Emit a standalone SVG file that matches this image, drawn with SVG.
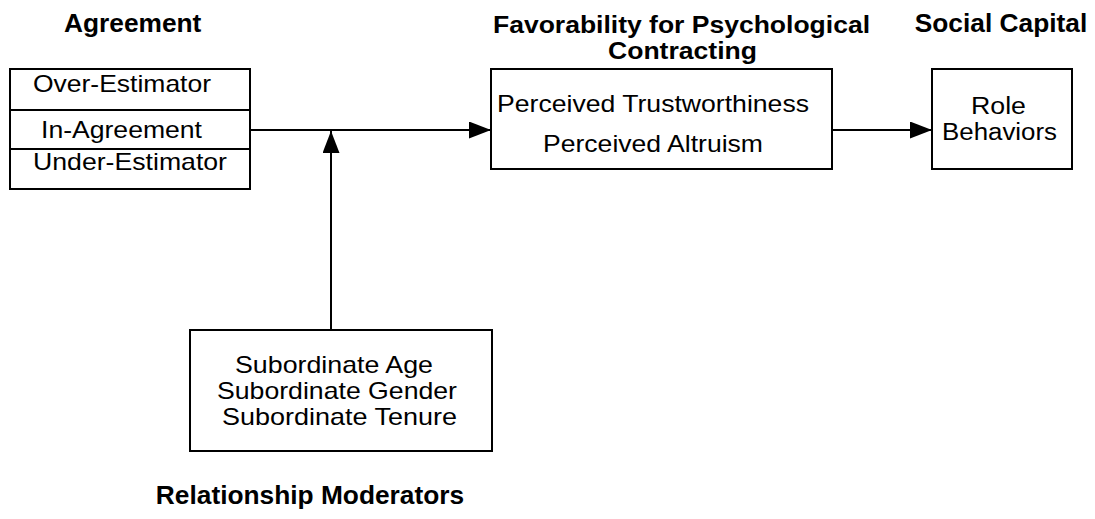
<svg xmlns="http://www.w3.org/2000/svg" width="1095" height="519" viewBox="0 0 1095 519">
<style>
.box{fill:#fff;stroke:#000;stroke-width:2}
.t{font-family:"Liberation Sans",Arial,sans-serif;font-size:24px;fill:#000}
.s{font-size:23px}
.h{font-family:"Liberation Sans",Arial,sans-serif;font-size:26.3px;font-weight:bold;fill:#000}
.hs{font-size:23px}
.c{stroke:#000;stroke-width:2;fill:none}
</style>
<defs>
<marker id="ah" markerUnits="userSpaceOnUse" markerWidth="24" markerHeight="18" refX="22" refY="8.5" orient="auto">
<path d="M0,0 L22,8.5 L0,17 z" fill="#000"/>
</marker>
</defs>
<rect width="1095" height="519" fill="#fff"/>
<g id="titles">
<text class="h" x="64" y="32">Agreement</text>
<text class="h hs" x="493" y="33" textLength="377" lengthAdjust="spacingAndGlyphs">Favorability for Psychological</text>
<text class="h hs" x="608" y="59" textLength="149" lengthAdjust="spacingAndGlyphs">Contracting</text>
<text class="h" x="1001" y="32" text-anchor="middle">Social Capital</text>
<text class="h" x="310" y="504" text-anchor="middle">Relationship Moderators</text>
</g>
<g id="agreement">
<rect class="box" x="10" y="69" width="240" height="120"/>
<line class="c" x1="10" y1="110" x2="250" y2="110"/>
<line class="c" x1="10" y1="149" x2="250" y2="149"/>
<text class="t" x="33" y="92" textLength="178" lengthAdjust="spacingAndGlyphs">Over-Estimator</text>
<text class="t" x="41" y="138" textLength="161" lengthAdjust="spacingAndGlyphs">In-Agreement</text>
<text class="t" x="33" y="170" textLength="194" lengthAdjust="spacingAndGlyphs">Under-Estimator</text>
</g>
<g id="favorability">
<rect class="box" x="491" y="69" width="341" height="100"/>
<text class="t" x="497" y="112" textLength="312" lengthAdjust="spacingAndGlyphs">Perceived Trustworthiness</text>
<text class="t" x="543" y="152" textLength="220" lengthAdjust="spacingAndGlyphs">Perceived Altruism</text>
</g>
<g id="social">
<rect class="box" x="932" y="69" width="140" height="100"/>
<text class="t s" x="971" y="114" textLength="55" lengthAdjust="spacingAndGlyphs">Role</text>
<text class="t s" x="942" y="140" textLength="115" lengthAdjust="spacingAndGlyphs">Behaviors</text>
</g>
<g id="moderators">
<rect class="box" x="190" y="330" width="302" height="121"/>
<text class="t" x="235" y="373" textLength="198" lengthAdjust="spacingAndGlyphs">Subordinate Age</text>
<text class="t" x="217" y="399" textLength="240" lengthAdjust="spacingAndGlyphs">Subordinate Gender</text>
<text class="t" x="222" y="425" textLength="235" lengthAdjust="spacingAndGlyphs">Subordinate Tenure</text>
</g>
<g id="connectors">
<line class="c" x1="250" y1="130" x2="491" y2="130" marker-end="url(#ah)"/>
<line class="c" x1="331" y1="330" x2="331" y2="131" marker-end="url(#ah)"/>
<line class="c" x1="832" y1="130" x2="932" y2="130" marker-end="url(#ah)"/>
</g>
</svg>
